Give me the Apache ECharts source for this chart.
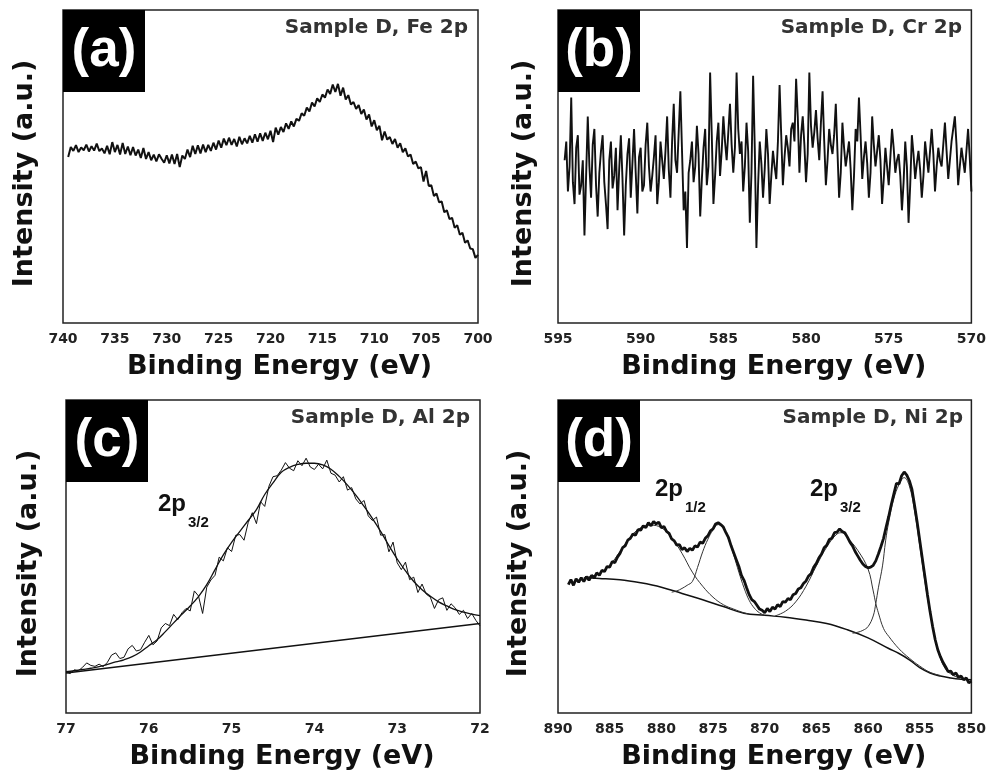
<!DOCTYPE html>
<html>
<head>
<meta charset="utf-8">
<script src="https://cdn.jsdelivr.net/npm/echarts@6/dist/echarts.min.js"></script>
<style>
  html, body { margin: 0; padding: 0; background: #fff; }
  #chart { width: 989px; height: 778px; }
</style>
</head>
<body>
<div id="chart"></div>
<script>
// (a) Fe 2p, raw counts every 0.25 eV from 739.5 eV down to 700 eV
const feStart = 739.5, feStep = 0.25;
const feIntensity = [
  53.0, 56.2,
  55.0, 56.8, 54.6, 56.1, 55.2, 57.0, 54.8, 56.5, 55.1, 57.3, 54.9, 55.8,
  54.2, 56.6, 53.9, 57.8, 54.6, 56.9, 53.8, 57.5, 54.0, 56.4, 53.6, 56.2,
  53.5, 55.4, 52.7, 55.9, 52.4, 54.6, 52.0, 53.8, 51.6, 53.9, 52.5, 51.2,
  53.6, 51.0, 53.8, 50.8, 54.0, 49.8, 53.5, 52.4, 55.4, 53.0, 56.6, 54.0,
  56.8, 54.2, 57.0, 54.6, 56.9, 55.0, 57.6, 55.4, 58.3, 56.0, 58.9, 56.8,
  59.2, 56.9, 58.8, 56.4, 59.5, 57.1, 59.0, 57.4, 59.8, 57.6, 60.3, 57.9,
  60.6, 58.2, 60.8, 58.7, 61.4, 57.8, 62.4, 60.2, 62.6, 61.0, 63.8, 62.0,
  64.4, 62.8, 65.2, 64.6, 67.0, 66.2, 68.8, 67.6, 70.4, 69.2, 71.8, 70.6,
  73.0, 72.0, 74.6, 73.2, 76.2, 73.8, 76.4, 72.6, 75.2, 71.4, 72.8, 69.8,
  70.6, 68.4, 69.6, 66.8, 68.2, 65.0, 66.6, 62.8, 64.8, 61.6, 63.0, 58.4,
  61.2, 58.6, 59.4, 57.2, 58.8, 56.0, 57.4, 54.6, 55.8, 53.2, 53.8, 50.8,
  51.6, 49.4, 49.8, 45.2, 48.6, 43.8, 44.0, 40.6, 41.4, 38.6, 38.8, 35.4,
  36.0, 33.2, 33.6, 30.4, 31.2, 28.2, 28.8, 25.6, 26.4, 23.8, 23.6, 20.8,
  21.8
];

// (b) Cr 2p, raw counts every 0.1 eV from 594.6 eV down to 570 eV
const crStart = 594.6, crStep = 0.1;
const crIntensity = [
  52, 58, 42, 50, 72, 45, 38, 56, 60, 41, 44, 52, 28, 47, 66, 50, 40, 57, 62, 44,
  34, 48, 55, 60, 45, 38, 30, 52, 58, 43, 47, 56, 36, 49, 60, 46, 28, 44, 54, 59,
  40, 51, 62, 48, 35, 53, 56, 42, 44, 57, 64, 50, 42, 47, 53, 60, 38, 45, 58, 52,
  46, 55, 66, 49, 40, 58, 70, 52, 48, 61, 74, 55, 36, 42, 24, 48, 52, 58, 45, 50,
  63, 54, 34, 46, 56, 62, 44, 50, 80, 60, 38, 47, 58, 64, 47, 55, 66, 58, 52, 61,
  70, 57, 48, 56, 80, 62, 54, 58, 42, 50, 64, 55, 32, 48, 79, 56, 24, 44, 58, 51,
  40, 49, 62, 54, 38, 47, 55, 50, 46, 58, 76, 60, 44, 53, 60, 56, 50, 62, 64, 58,
  78, 66, 48, 60, 66, 57, 45, 54, 80, 63, 56, 61, 68, 59, 52, 64, 74, 58, 44, 52,
  62, 57, 54, 60, 70, 55, 40, 48, 64, 56, 50, 54, 58, 49, 36, 47, 62, 58, 72, 60,
  46, 53, 58, 51, 40, 48, 66, 57, 50, 55, 60, 52, 38, 46, 56, 50, 44, 53, 62, 56,
  48, 52, 54, 47, 36, 45, 58, 50, 32, 44, 60, 54, 46, 51, 55, 49, 40, 47, 58, 53,
  48, 55, 62, 54, 42, 50, 56, 52, 50, 57, 64, 55, 46, 52, 58, 62, 66, 57, 44, 50,
  56, 52, 48, 55, 62, 53, 42
];

// (c) Al 2p, raw counts every 0.05 eV from 77 eV down to 72 eV
const alStart = 77.0, alStep = 0.05;
const alIntensity = [
  13.0, 12.6, 13.8, 13.5, 14.6, 16.0, 15.2, 14.9, 15.6, 14.8,
  16.2, 18.5, 19.2, 17.4, 17.8, 20.5, 21.6, 19.8, 20.2, 22.6,
  24.8, 21.8, 23.0, 27.2, 28.6, 27.9, 31.5, 29.8, 32.0, 33.4,
  32.6, 39.0, 37.4, 31.8, 40.2, 42.5, 44.0, 49.8, 48.6, 52.8,
  51.6, 56.8, 57.0, 55.2, 60.8, 64.0, 60.5, 67.5, 66.0, 72.4,
  75.5, 75.8, 77.6, 80.0, 78.2, 77.4, 80.6, 79.0, 81.4, 78.6,
  77.8, 79.5, 78.0, 80.8, 76.6, 76.0, 73.8, 75.5, 71.2, 72.0,
  68.4, 66.8, 67.9, 63.0, 61.5, 62.6, 56.8, 57.0, 51.5, 54.6,
  48.0, 45.8, 48.2, 42.6, 43.4, 38.5, 41.2, 38.0, 37.0, 33.4,
  36.2, 36.8, 32.8, 34.9, 33.6, 31.5, 32.8, 30.2, 31.8, 29.6,
  27.8
];
// fitted 2p3/2 envelope every 0.1 eV from 77 eV down to 72 eV
const alFitStart = 77.0, alFitStep = 0.1;
const alFit = [
  13.2, 13.5, 13.9, 14.3, 14.8, 15.5, 16.3, 17.0, 18.0, 19.5,
  21.5, 23.4, 26.0, 28.8, 31.5, 34.2, 37.2, 41.0, 45.8, 50.5,
  54.5, 58.0, 61.5, 65.0, 69.8, 73.5, 76.9, 78.5, 79.4, 79.8,
  79.8, 79.3, 77.9, 75.6, 72.8, 69.6, 66.0, 62.2, 58.0, 53.5,
  49.2, 45.4, 42.0, 39.4, 37.3, 35.5, 34.2, 33.0, 32.2, 31.6,
  31.1
];
const alBaseline = [[77.0, 12.8], [72.0, 28.6]];

// (d) Ni 2p, raw counts every 0.25 eV from 889 eV down to 850 eV
const niStart = 889.0, niStep = 0.25;
const niIntensity = [
  41.0, 42.6, 40.8, 42.9, 41.8, 43.2, 42.0, 43.6, 42.4, 44.0, 43.1, 44.8,
  44.0, 45.6, 45.2, 46.8, 46.6, 48.4, 48.0, 49.8, 51.0, 52.8, 53.4, 55.2,
  55.8, 57.2, 56.8, 58.6, 58.4, 59.8, 59.2, 60.8, 59.8, 61.2, 60.4, 61.0,
  59.2, 59.6, 58.0, 57.4, 55.6, 55.0, 53.6, 53.8, 52.2, 52.8, 51.6, 52.6,
  52.0, 53.4, 53.0, 54.6, 54.2, 55.8, 56.6, 58.2, 58.8, 60.4, 60.8, 60.2,
  59.4, 57.6, 56.0, 53.4, 51.2, 49.0, 46.8, 44.0, 42.4, 40.0, 37.8, 36.2,
  35.6, 34.4, 33.2, 32.8, 32.0, 33.4, 32.4, 33.8, 33.2, 34.6, 34.0, 35.6,
  35.4, 36.6, 36.2, 37.8, 38.2, 39.6, 40.0, 41.4, 42.2, 43.8, 44.6, 46.6,
  47.8, 49.6, 50.8, 52.8, 53.6, 55.4, 55.8, 57.6, 57.8, 58.8, 58.0, 57.6,
  56.2, 54.6, 53.4, 51.6, 50.2, 48.8, 47.6, 46.8, 46.4, 46.6, 47.2, 48.6,
  50.8, 53.2, 55.8, 59.4, 62.8, 66.6, 70.0, 73.4, 73.2, 75.8, 77.0, 76.0,
  74.2, 71.4, 66.4, 61.0, 55.2, 49.4, 43.6, 37.8, 32.4, 27.6, 23.4, 20.2,
  18.0, 16.2, 14.8, 13.2, 13.4, 12.2, 12.8, 11.4, 11.8, 10.6, 11.2, 9.6,
  10.2
];
const niBackground = [
  [887.5, 43.2], [886, 43.0], [884, 42.6], [882, 41.6], [880, 40.2], [878, 38.2],
  [876, 36.2], [874, 34.0], [872, 31.9], [870, 31.2], [868, 30.6], [866, 29.7],
  [864, 28.6], [862, 26.6], [860, 24.0], [858, 20.6], [857, 19.0], [856, 17.0],
  [855, 14.5], [854, 12.8], [853, 11.8], [852, 11.2], [851, 10.8], [850, 10.6]
];
const niSat1 = [
  [887.5, 43.2], [886, 44.6], [885, 47.2], [884, 51.6], [883, 56.2], [882, 59.2],
  [881, 60.0], [880, 59.2], [879, 56.0], [878, 51.0], [877, 45.0], [876, 40.5],
  [875, 37.0], [874, 34.6], [873, 33.2], [872, 32.0], [871.5, 31.6]
];
const niPeak1 = [
  [879, 38.6], [878.5, 39.0], [878, 39.8], [877.5, 40.8], [877, 42.0], [876.5, 46.5],
  [876, 51.5], [875.5, 55.5], [875, 58.5], [874.5, 60.2], [874, 59.0], [873.5, 55.5],
  [873, 50.5], [872.5, 45.0], [872, 40.0], [871.5, 36.0], [871, 33.5], [870.5, 32.0],
  [870, 31.2]
];
const niSat2 = [
  [869, 31.0], [868, 32.5], [867, 35.5], [866, 40.5], [865, 47.0], [864, 53.0],
  [863, 57.2], [862.5, 57.6], [862, 56.0], [861, 52.0], [860, 46.0], [859.5, 39.0],
  [859.25, 35.0], [859, 32.0], [858.5, 27.0], [858, 24.5], [857, 20.5], [856, 17.5],
  [855, 15.0], [854, 13.0], [853, 12.0]
];
const niPeak2 = [
  [861.5, 25.5], [861, 25.8], [860.5, 26.4], [860, 27.6], [859.5, 31.0], [859.25, 35.0],
  [859, 40.0], [858.6, 47.0], [858.3, 55.0], [858, 61.0], [857.5, 68.5], [857, 73.0],
  [856.5, 75.2], [856, 72.5], [855.5, 64.5], [855, 53.5], [854.5, 42.0], [854, 32.0],
  [853.5, 23.5], [853, 17.5], [852.5, 14.0], [852, 12.5], [851.5, 11.6], [851, 11.2]
];

const xTicks = [
  { min: 700, max: 740, interval: 5 },
  { min: 570, max: 595, interval: 5 },
  { min: 72, max: 77, interval: 1 },
  { min: 850, max: 890, interval: 5 }
];
const panelTags = ['(a)', '(b)', '(c)', '(d)'];
const panelTitles = ['Sample D, Fe 2p', 'Sample D, Cr 2p', 'Sample D, Al 2p', 'Sample D, Ni 2p'];

function pairs(start, step, values) {
  return values.map((v, i) => [+(start - i * step).toFixed(3), v]);
}

const chart = echarts.init(document.getElementById('chart'));

const grids = [
  { left: 63, top: 10, width: 415, height: 313 },
  { left: 558, top: 10, width: 414, height: 313 },
  { left: 66, top: 400, width: 414, height: 313 },
  { left: 558, top: 400, width: 415, height: 313 }
];
const yNameGap = [25, 21, 24, 26];

const ink = '#111';
const labelFont = 'DejaVu Sans';

const option = {
  animation: false,
  backgroundColor: '#fff',
  grid: grids.map((g) => Object.assign({
    show: true,
    borderColor: '#222',
    borderWidth: 1.5,
    backgroundColor: 'transparent'
  }, g)),
  xAxis: xTicks.map((t, i) => ({
    type: 'value',
    gridIndex: i,
    inverse: true,
    min: t.min,
    max: t.max,
    interval: t.interval,
    name: 'Binding Energy (eV)',
    nameLocation: 'middle',
    nameGap: 30,
    nameTextStyle: {
      fontFamily: labelFont,
      fontWeight: 'bold',
      fontSize: 27,
      color: '#111',
      padding: [0, 0, 0, 18]
    },
    axisLine: { show: false },
    axisTick: { show: false },
    splitLine: { show: false },
    axisLabel: {
      fontFamily: labelFont,
      fontWeight: 'bold',
      fontSize: 14,
      color: '#222',
      margin: 9
    }
  })),
  yAxis: grids.map((g, i) => ({
    type: 'value',
    gridIndex: i,
    min: 0,
    max: 100,
    name: 'Intensity (a.u.)',
    nameLocation: 'middle',
    nameGap: yNameGap[i],
    nameTextStyle: {
      fontFamily: labelFont,
      fontWeight: 'bold',
      fontSize: 27,
      color: '#111',
      padding: [0, 14, 0, 0]
    },
    axisLine: { show: false },
    axisTick: { show: false },
    axisLabel: { show: false },
    splitLine: { show: false }
  })),
  series: [
    { type: 'line', xAxisIndex: 0, yAxisIndex: 0, data: pairs(feStart, feStep, feIntensity),
      symbol: 'none', lineStyle: { color: ink, width: 2 } },
    { type: 'line', xAxisIndex: 1, yAxisIndex: 1, data: pairs(crStart, crStep, crIntensity),
      symbol: 'none', sampling: null, lineStyle: { color: ink, width: 1.9 } },
    { type: 'line', xAxisIndex: 2, yAxisIndex: 2, data: alBaseline,
      symbol: 'none', lineStyle: { color: ink, width: 1.5 } },
    { type: 'line', xAxisIndex: 2, yAxisIndex: 2, data: pairs(alFitStart, alFitStep, alFit),
      symbol: 'none', smooth: 0.4, lineStyle: { color: ink, width: 1.3 } },
    { type: 'line', xAxisIndex: 2, yAxisIndex: 2, data: pairs(alStart, alStep, alIntensity),
      symbol: 'none', lineStyle: { color: ink, width: 1 } },
    { type: 'line', xAxisIndex: 3, yAxisIndex: 3, data: niBackground,
      symbol: 'none', smooth: 0.4, lineStyle: { color: ink, width: 1.5 } },
    { type: 'line', xAxisIndex: 3, yAxisIndex: 3, data: niSat1,
      symbol: 'none', smooth: 0.4, lineStyle: { color: '#333', width: 1 } },
    { type: 'line', xAxisIndex: 3, yAxisIndex: 3, data: niPeak1,
      symbol: 'none', smooth: 0.4, lineStyle: { color: '#333', width: 1 } },
    { type: 'line', xAxisIndex: 3, yAxisIndex: 3, data: niSat2,
      symbol: 'none', smooth: 0.4, lineStyle: { color: '#333', width: 1 } },
    { type: 'line', xAxisIndex: 3, yAxisIndex: 3, data: niPeak2,
      symbol: 'none', smooth: 0.4, lineStyle: { color: '#333', width: 1 } },
    { type: 'line', xAxisIndex: 3, yAxisIndex: 3, data: pairs(niStart, niStep, niIntensity),
      symbol: 'none', lineStyle: { color: ink, width: 2.8 } }
  ],
  graphic: []
};

// black tag boxes, sample titles
grids.forEach((g, i) => {
  option.graphic.push({
    type: 'rect', left: g.left, top: g.top, z: 100,
    shape: { width: 82, height: 82 },
    style: { fill: '#000' }
  });
  option.graphic.push({
    type: 'text', x: g.left + 41, y: g.top + 41, z: 101,
    style: {
      text: panelTags[i], fill: '#fff', align: 'center', verticalAlign: 'middle',
      font: 'bold 53px "Liberation Sans", Arial, sans-serif'
    }
  });
  option.graphic.push({
    type: 'text', x: g.left + g.width - 10, y: g.top + 18, z: 101,
    style: {
      text: panelTitles[i], fill: '#333', align: 'right', verticalAlign: 'middle',
      font: 'bold 20px "DejaVu Sans", sans-serif'
    }
  });
});

// peak annotations
const peakNotes = [
  { x: 158, y: 516, sub: '3/2' },
  { x: 655, y: 501, sub: '1/2' },
  { x: 810, y: 501, sub: '3/2' }
];
peakNotes.forEach((n) => {
  option.graphic.push({
    type: 'text', x: n.x, y: n.y, z: 101,
    style: { text: '2p', fill: '#111', verticalAlign: 'bottom',
      font: 'bold 24px "Liberation Sans", Arial, sans-serif' }
  });
  option.graphic.push({
    type: 'text', x: n.x + 30, y: n.y + 14, z: 101,
    style: { text: n.sub, fill: '#111', verticalAlign: 'bottom',
      font: 'bold 15px "Liberation Sans", Arial, sans-serif' }
  });
});

chart.setOption(option);
</script>
</body>
</html>
